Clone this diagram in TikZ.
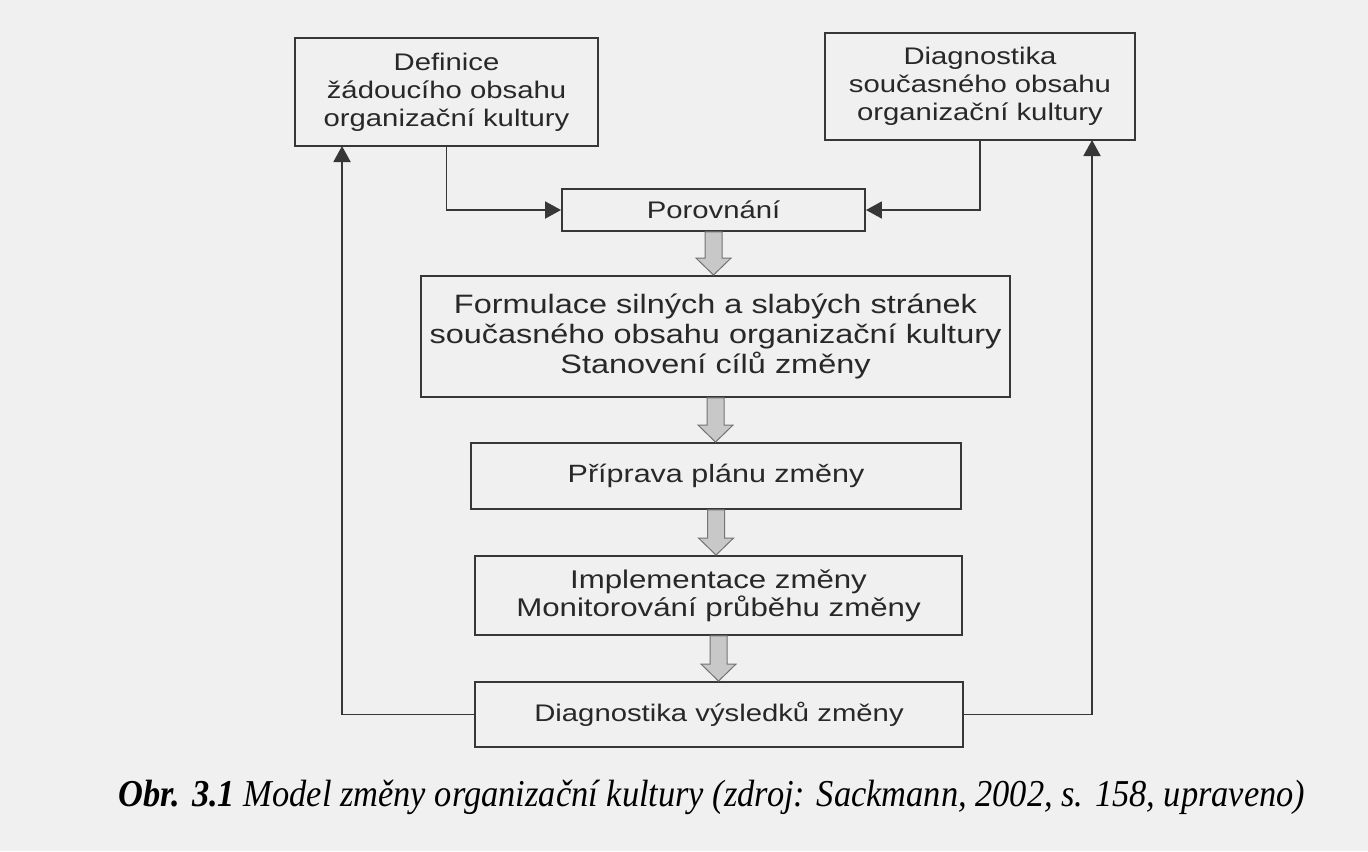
\documentclass[tikz,border=0pt]{standalone}
\usepackage{fontspec}
\setmainfont{Liberation Serif}
\newfontfamily\boxfont[FakeStretch=1.22]{Liberation Sans}
\usetikzlibrary{arrows.meta,calc}
\definecolor{paper}{RGB}{240,240,240}
\definecolor{ink}{RGB}{55,55,55}
\definecolor{txt}{RGB}{40,40,40}
\definecolor{barfill}{RGB}{200,200,200}
\definecolor{barline}{RGB}{115,115,115}
\newsavebox\capbox
\newcommand\blockarr[2]{%
  \path[barrow] let \p1=(#1.south), \p2=(#2.north) in
    (\x1-4.25pt,\y1) -- (\x1-4.25pt,\y2+8.5pt) -- (\x1-8.75pt,\y2+8.5pt) --
    (\x1,\y2) -- (\x1+8.75pt,\y2+8.5pt) -- (\x1+4.25pt,\y2+8.5pt) --
    (\x1+4.25pt,\y1) -- cycle;}
\begin{document}
\sbox\capbox{\fontsize{19}{21}\selectfont\itshape\textbf{Obr. 3.1} Model změny organizační kultury (zdroj: Sackmann, 2002, s. 158, upraveno)}%
\pgfmathsetmacro\capscale{593.5/\the\wd\capbox}%
\begin{tikzpicture}[x=0.5pt,y=-0.5pt,
  box/.style={draw=ink,line width=0.95pt,inner sep=0pt,align=center,
    text=txt,font=\boxfont\fontsize{12}{14}\selectfont},
  conn/.style={draw=ink,line width=0.95pt,-{Triangle[length=8pt,width=8.5pt]}},
  barrow/.style={fill=barfill,draw=barline,line width=0.5pt}]
\fill[paper] (0,0) rectangle (1368,851);
\useasboundingbox (0,0) rectangle (1368,851);
\node[box,minimum width=151.5pt,minimum height=54pt] (def) at (446.5,92)
  {Definice\\žádoucího obsahu\\organizační kultury};
\node[box,minimum width=155pt,minimum height=53.5pt] (diag) at (980,86.5)
  {Diagnostika\\současného obsahu\\organizační kultury};
\node[box,minimum width=151.5pt,minimum height=21pt] (por) at (713.5,210)
  {Porovnání};
\node[box,minimum width=294.5pt,minimum height=60.5pt,
  font=\boxfont\fontsize{13.3}{15}\selectfont] (form) at (715.5,336.5)
  {Formulace silných a slabých stránek\\současného obsahu organizační kultury\\Stanovení cílů změny};
\node[box,minimum width=245pt,minimum height=33pt,
  font=\boxfont\fontsize{12.5}{14}\selectfont] (prip) at (716,476)
  {Příprava plánu změny};
\node[box,minimum width=243.5pt,minimum height=39.5pt,
  font=\boxfont\fontsize{12.8}{14}\selectfont] (impl) at (718.5,595.5)
  {Implementace změny\\Monitorování průběhu změny};
\node[box,minimum width=244pt,minimum height=32.5pt] (vys) at (719,714.5)
  {Diagnostika výsledků změny};
\coordinate (defin) at (342,146);
\coordinate (diagin) at (1092,140);
\draw[conn] (def.south) |- (por.west);
\draw[conn] (diag.south) |- (por.east);
\draw[conn] (vys.west) -| (defin);
\draw[conn] (vys.east) -| (diagin);
\blockarr{por}{form}
\blockarr{form}{prip}
\blockarr{prip}{impl}
\blockarr{impl}{vys}
\node[anchor=base west,inner sep=0pt,text=black] (cap) at (118,806)
  {\scalebox{\capscale}[1]{\usebox\capbox}};
\end{tikzpicture}
\end{document}
